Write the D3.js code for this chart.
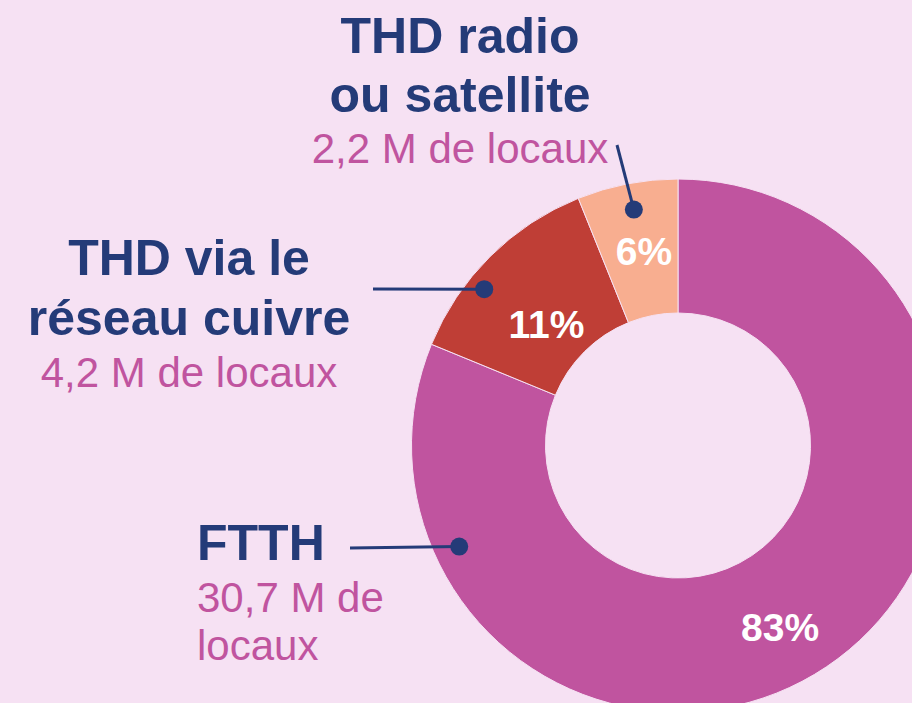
<!DOCTYPE html>
<meta charset="utf-8">
<head>
  <script src="https://d3js.org/d3.v7.min.js"></script>
  <style>
    body { margin: 0; background: #F6E1F3; }
    text { font-family: "Liberation Sans", Arial, sans-serif; }
  </style>
</head>
<body>
  <div id="chart"></div>
  <script>
    // data
    var categories = ["FTTH", "THD via le réseau cuivre", "THD radio ou satellite"];
    var locaux = [30.7, 4.2, 2.2];            // millions de locaux
    var sliceShares = [81.2, 12.7, 6.1];      // slice sizes as drawn in the picture (%)
    var pctLabels = ["83%", "11%", "6%"];
    var titleLines = [["FTTH"], ["THD via le", "réseau cuivre"], ["THD radio", "ou satellite"]];
    var subLines = [["30,7 M de", "locaux"], ["4,2 M de locaux"], ["2,2 M de locaux"]];

    var width = 912, height = 703;
    var cx = 678, cy = 445.5, outerR = 266.5, innerR = 132.5;
    var colors = ["#C0549F", "#BF3E36", "#F8AE90"];
    var navy = "#243B78", pink = "#C0549F";

    var svg = d3.select("#chart").append("svg")
      .attr("width", width)
      .attr("height", height);

    svg.append("rect").attr("width", width).attr("height", height).attr("fill", "#F6E1F3");

    var pie = d3.pie().sort(null).value(function (d) { return d; });
    var arcs = pie(sliceShares);
    var arc = d3.arc().innerRadius(innerR).outerRadius(outerR);

    var g = svg.append("g").attr("transform", "translate(" + cx + "," + cy + ")");

    g.selectAll("path")
      .data(arcs)
      .enter()
      .append("path")
      .attr("d", arc)
      .attr("fill", function (d, i) { return colors[i]; })
      .attr("stroke", "#F6E1F3")
      .attr("stroke-width", 1);

    // percent labels: angle (deg from top, clockwise) and radius
    var pctPos = [[150.6, 208], [312.7, 179], [350.1, 198]];
    function polar(a, r) {
      var t = a * Math.PI / 180;
      return [r * Math.sin(t), -r * Math.cos(t)];
    }
    g.selectAll("text.pct")
      .data(arcs)
      .enter()
      .append("text")
      .attr("class", "pct")
      .attr("x", function (d, i) { return polar(pctPos[i][0], pctPos[i][1])[0]; })
      .attr("y", function (d, i) { return polar(pctPos[i][0], pctPos[i][1])[1]; })
      .attr("dy", "0.36em")
      .attr("text-anchor", "middle")
      .attr("font-weight", "bold")
      .attr("font-size", 39)
      .attr("fill", "white")
      .text(function (d, i) { return pctLabels[i]; });

    // leader lines + dots
    var dotPos = [[245.2, 241], [308.9, 249], [349.4, 240]];
    var lineStart = [[350, 548], [373, 289], [617, 145]];
    dotPos.forEach(function (p, i) {
      var q = polar(p[0], p[1]);
      var x = cx + q[0], y = cy + q[1];
      svg.append("line")
        .attr("x1", lineStart[i][0]).attr("y1", lineStart[i][1])
        .attr("x2", x).attr("y2", y)
        .attr("stroke", navy).attr("stroke-width", 3);
      svg.append("circle")
        .attr("cx", x).attr("cy", y).attr("r", 9)
        .attr("fill", navy);
    });

    // text blocks
    var blocks = [
      { x: 197, anchor: "start", y: 560, sub: 612, step: 48 },
      { x: 189, anchor: "middle", y: 275, sub: 387, step: 60 },
      { x: 460, anchor: "middle", y: 53, sub: 163, step: 59 }
    ];
    blocks.forEach(function (b, i) {
      var t = svg.append("text")
        .attr("text-anchor", b.anchor)
        .attr("font-weight", "bold")
        .attr("font-size", 50)
        .attr("fill", navy);
      titleLines[i].forEach(function (s, j) {
        t.append("tspan").attr("x", b.x).attr("y", b.y + j * b.step).text(s);
      });
      var st = svg.append("text")
        .attr("text-anchor", b.anchor)
        .attr("font-size", 42)
        .attr("fill", pink);
      subLines[i].forEach(function (s, j) {
        st.append("tspan").attr("x", b.x).attr("y", b.sub + j * 48).text(s);
      });
    });
  </script>
</body>
</html>
